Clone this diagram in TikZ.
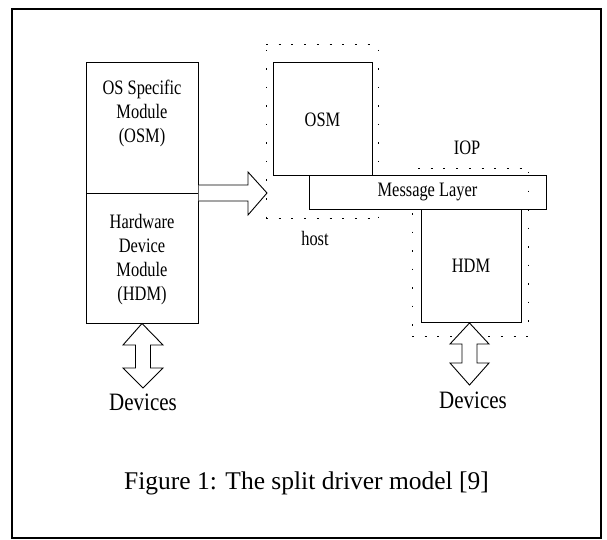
\documentclass[tikz,border=0pt]{standalone}
\usepackage{fontspec}
\setmainfont{Liberation Serif}
\newfontfamily\nf[FakeStretch=0.8]{Liberation Serif}
\newfontfamily\df[FakeStretch=0.84]{Liberation Serif}
\begin{document}
\begin{tikzpicture}[x=1pt,y=-1pt,line width=1pt,
  box/.style={draw, rectangle, inner sep=0pt},
  lbl/.style={font=\nf\fontsize{20.5}{24}\selectfont, align=center, inner sep=0pt},
  dev/.style={font=\df\fontsize{25}{30}\selectfont, inner sep=0pt},
  hdots/.style={line width=1pt, dash pattern=on 2pt off 10.7pt},
  vdots/.style={line width=1pt, dash pattern=on 1.5pt off 17pt},
  blockarrow/.style={draw, fill=white, line width=0.9pt, line join=miter}]
\useasboundingbox (0,0) rectangle (607,540);
\draw[line width=1.6pt] (12,9) rectangle (601,538);
% left split box
\node[box, minimum width=112pt, minimum height=130pt] (osmL) at (142,128) {};
\node[box, minimum width=112pt, minimum height=130pt] (hdmL) at (142,258) {};
\node[lbl] (tOS) at (142,113.5) {OS Specific\\Module\\(OSM)};
\node[lbl] (tHW) at (142,259.5) {Hardware\\Device\\Module\\(HDM)};
% host region
\draw[hdots] (266,45) -- (378,45);
\draw[hdots] (266,218) -- (378,218);
\draw[vdots] (266,50) -- (266,218);
\draw[vdots] (378,50) -- (378,218);
\node[box, lbl, minimum width=99pt, minimum height=113pt] (osm) at (322.5,119.5) {OSM};
\node[box, lbl, fill=white, minimum width=237pt, minimum height=33pt] (ml) at (427.5,192.5) {Message Layer};
\node[box, lbl, minimum width=100pt, minimum height=113pt] (hdm) at (471,265.5) {HDM};
% IOP region
\draw[hdots] (418,169) -- (528,169);
\draw[hdots] (412,336) -- (528,336);
\draw[vdots] (528,172) -- (528,336);
\draw[vdots] (412,213) -- (412,336);
\node[lbl] (iop) at (467,148) {IOP};
\node[lbl] (host) at (315,238) {host};
% block arrow from the split box to the host region
\coordinate (rtip) at (267,193);
\draw[blockarrow] (osmL.south east |- 0,185) -- (248,185) -- (248,172) -- (rtip)
  -- (248,215) -- (248,201) -- (osmL.south east |- 0,201);
% devices
\node[dev] (devL) at (143,402) {Devices};
\node[dev] (devR) at (473,400) {Devices};
\draw[blockarrow] (hdmL.south) -- (163,345) -- (150.5,345) -- (150.5,368) -- (163,368)
  -- (143,388) -- (123,368) -- (135.5,368) -- (135.5,345) -- (123,345) -- cycle;
\coordinate (rtop) at (469.5,323);
\draw[blockarrow] (rtop) -- (489,344) -- (477,344) -- (477,363) -- (489,363)
  -- (469.5,385) -- (450,363) -- (462,363) -- (462,344) -- (450,344) -- cycle;
% caption
\node[font=\fontsize{25.5}{30}\selectfont, inner sep=0pt] (cap) at (306.5,483) {Figure 1: The split driver model [9]};
\end{tikzpicture}
\end{document}
